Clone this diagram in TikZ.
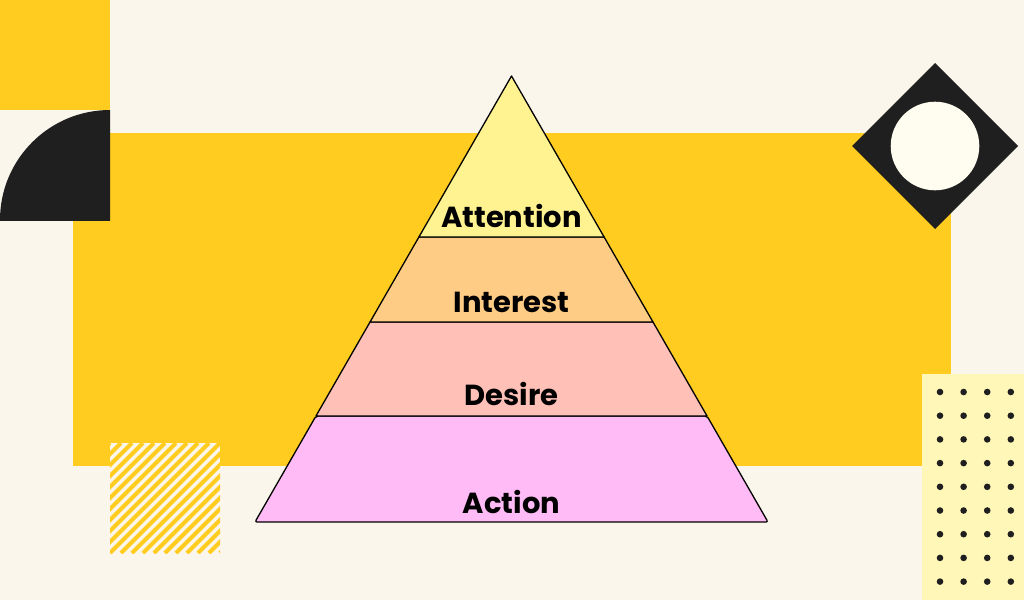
\documentclass[tikz,border=0pt]{standalone}
\usepackage{fontspec}
\setmainfont{Poppins}
\usetikzlibrary{calc}
\definecolor{cream}{RGB}{250,246,236}
\definecolor{sun}{RGB}{255,204,31}
\definecolor{ink}{RGB}{31,31,31}
\definecolor{pale}{RGB}{255,247,184}
\definecolor{ivory}{RGB}{255,253,240}
\definecolor{attcol}{RGB}{255,243,145}
\definecolor{intcol}{RGB}{255,204,133}
\definecolor{descol}{RGB}{255,192,184}
\definecolor{actcol}{RGB}{255,187,245}
\tikzset{
  band/.style={draw=black, line width=1.3pt, line join=round},
  lbl/.style={anchor=base, inner sep=0pt, font=\fontsize{29}{34}\selectfont\bfseries}
}
\begin{document}
\begin{tikzpicture}[x=1pt, y=-1pt]
    % Sfondo
    \fill[cream] (0,0) rectangle (1024,600);
    \useasboundingbox (0,0) rectangle (1024,600);
    % Forme decorative
    \fill[sun] (0,0) rectangle (110,110);
    \fill[sun] (73,133) rectangle (951,466);
    % Quarto di cerchio
    \fill[cream] (0,110) rectangle (110,220);
    \begin{scope}
        \clip (0,110) rectangle (110,220);
        \fill[ink] (110,220) circle[radius=110];
    \end{scope}
    % Quadrato a righe
    \begin{scope}
        \clip (110,443) rectangle (220,553);
        \fill[cream] (110,443) rectangle (220,553);
        \foreach \s in {-121,-110,...,121}
            \draw[sun, line width=4.2pt] (110+\s,553) -- ++(110,-110);
    \end{scope}
    % Rombo con cerchio
    \fill[ink] (935,63) -- (1018,146) -- (935,229) -- (852,146) -- cycle;
    \fill[ivory] (935,146) circle[radius=44.3];
    % Pannello a punti
    \fill[pale] (922,374) rectangle (1024,600);
    \foreach \i in {0,...,3}
        \foreach \j in {0,...,8}
            \fill[ink] (940+23.6*\i, 392+23.7*\j) circle[radius=3.3];
    % Piramide
    \coordinate (apex) at (511.5,76);
    \coordinate (bl) at (255,522);
    \coordinate (br) at (768,522);
    \coordinate (l1) at ($(apex)!0.361!(bl)$);
    \coordinate (r1) at ($(apex)!0.361!(br)$);
    \coordinate (l2) at ($(apex)!0.5516!(bl)$);
    \coordinate (r2) at ($(apex)!0.5516!(br)$);
    \coordinate (l3) at ($(apex)!0.7623!(bl)$);
    \coordinate (r3) at ($(apex)!0.7623!(br)$);
    \filldraw[band, fill=actcol, rounded corners=2pt] (l3) -- (bl) -- (br) -- (r3) -- cycle;
    \filldraw[band, fill=descol] (l2) -- (l3) -- (r3) -- (r2) -- cycle;
    \filldraw[band, fill=intcol] (l1) -- (l2) -- (r2) -- (r1) -- cycle;
    \filldraw[band, fill=attcol] (apex) -- (l1) -- (r1) -- cycle;
    % Etichette
    \node[lbl] (attention) at (511.5,227) {Attention};
    \node[lbl] (interest) at (511.5,312) {Interest};
    \node[lbl] (desire) at (511.5,405) {Desire};
    \node[lbl] (action) at (511.5,513) {Action};
\end{tikzpicture}
\end{document}
